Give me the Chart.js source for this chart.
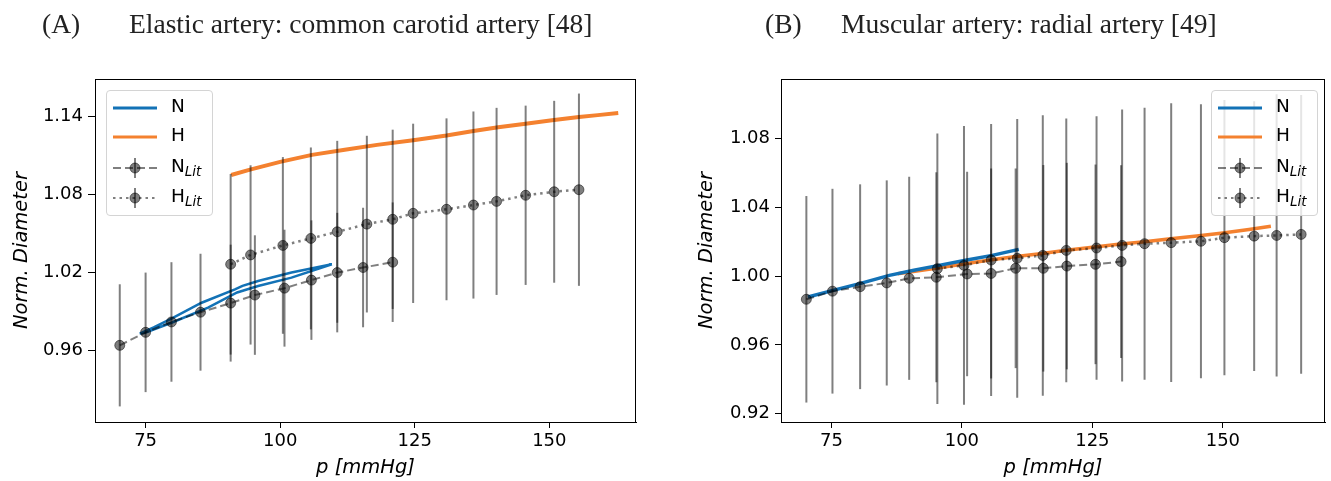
<!DOCTYPE html>
<html><head><meta charset="utf-8">
<script src="https://cdn.jsdelivr.net/npm/chart.js@4.4.1/dist/chart.umd.min.js"></script>
<style>
html,body{margin:0;padding:0;background:#fff;}
#wrap{position:relative;width:1331px;height:481px;overflow:hidden;background:#fff;}
canvas{position:absolute;top:0;}
.ttl{position:absolute;font-family:"Liberation Serif","DejaVu Serif",serif;font-size:27.5px;line-height:30px;color:#222;white-space:nowrap;}
.leg{position:absolute;width:107px;height:126px;box-sizing:border-box;background:rgba(255,255,255,0.8);border:1px solid #d4d4d4;border-radius:4px;font-family:"DejaVu Sans",sans-serif;font-size:18.5px;color:#000;}
.row{position:absolute;left:0;width:107px;height:26px;}
.row svg{position:absolute;left:5px;top:1px;}
.row span{position:absolute;left:64px;top:0px;line-height:22px;}
.row sub{font-style:italic;font-size:13.5px;vertical-align:-4px;line-height:0;}
</style></head>
<body><div id="wrap">
<canvas id="cA" width="665" height="481" style="left:0px"></canvas>
<canvas id="cB" width="666" height="481" style="left:665px"></canvas>
<div class="ttl" style="left:42px;top:9px">(A)</div>
<div class="ttl" style="left:129px;top:9px">Elastic artery: common carotid artery [48]</div>
<div class="ttl" style="left:765px;top:9px">(B)</div>
<div class="ttl" style="left:841px;top:9px">Muscular artery: radial artery [49]</div>
<div class="leg" id="legA" style="left:106px;top:90px"></div>
<div class="leg" id="legB" style="left:1211px;top:90px"></div>
</div>
<script>
// ---------- Panel A: common carotid artery ----------
const A_N_p = [73.9, 76.5, 79.8, 85.4, 91.6, 93.0, 95.9, 102.1, 109.6, 102.1, 95.9, 92.0, 86.6, 79.8, 74.9, 73.9];
const A_N_d = [0.9731, 0.9778, 0.9845, 0.9968, 1.0071, 1.0098, 1.0135, 1.0200, 1.0264, 1.0161, 1.0097, 1.0047, 0.9930, 0.9814, 0.9737, 0.9731];
const A_H_p = [90.9, 94.4, 100.0, 105.9, 112.0, 118.0, 124.7, 130.9, 135.9, 140.5, 145.6, 150.5, 155.5, 159.0, 162.8];
const A_H_d = [1.0951, 1.0993, 1.1052, 1.1106, 1.1145, 1.1183, 1.1218, 1.1255, 1.1290, 1.1318, 1.1345, 1.1372, 1.1397, 1.1412, 1.1428];
const A_NLit_p = [70.2, 75.0, 79.8, 85.2, 90.8, 95.3, 100.8, 105.8, 110.6, 115.4, 120.9];
const A_NLit_d = [0.964, 0.974, 0.982, 0.9895, 0.9965, 1.0027, 1.008, 1.0142, 1.0200, 1.0239, 1.0280];
const A_NLit_e = [0.047, 0.046, 0.046, 0.045, 0.045, 0.046, 0.045, 0.046, 0.046, 0.046, 0.046];
const A_HLit_p = [90.8, 94.5, 100.5, 105.7, 110.6, 116.1, 120.9, 124.7, 130.9, 135.9, 140.2, 145.6, 150.9, 155.5];
const A_HLit_d = [1.0264, 1.0336, 1.0409, 1.0463, 1.0514, 1.0573, 1.0610, 1.0656, 1.0687, 1.0720, 1.0748, 1.0795, 1.0822, 1.0838];
const A_HLit_e = [0.0695, 0.069, 0.068, 0.070, 0.070, 0.068, 0.069, 0.069, 0.070, 0.072, 0.072, 0.069, 0.070, 0.074];
const A_xTicks = [75, 100, 125, 150];
const A_yTicks = [0.96, 1.02, 1.08, 1.14];

// ---------- Panel B: radial artery ----------
const B_N_p = [70.5, 75.3, 80.4, 86.1, 90.8, 95.6, 100.7, 105.8, 110.9];
const B_N_d = [0.9878, 0.9917, 0.9956, 1.0004, 1.0034, 1.0062, 1.0092, 1.0120, 1.0155];
const B_H_p = [87.7, 95.0, 100.0, 105.0, 110.0, 115.0, 120.0, 125.0, 130.0, 135.0, 140.0, 145.0, 150.0, 155.0, 159.2];
const B_H_d = [1.0014, 1.0045, 1.0068, 1.0092, 1.0112, 1.0130, 1.0150, 1.0168, 1.0185, 1.0200, 1.0217, 1.0233, 1.0250, 1.0270, 1.0289];
const B_NLit_p = [70.2, 75.2, 80.5, 85.6, 89.9, 95.1, 101.0, 105.6, 110.3, 115.6, 120.1, 125.6, 130.5];
const B_NLit_d = [0.9865, 0.9912, 0.9938, 0.9960, 0.9987, 0.9993, 1.0012, 1.0015, 1.0045, 1.0045, 1.0058, 1.0068, 1.0084];
const B_NLit_e = [0.060, 0.0595, 0.0595, 0.0596, 0.059, 0.061, 0.0594, 0.061, 0.058, 0.060, 0.060, 0.058, 0.056];
const B_HLit_p = [95.3, 100.4, 105.6, 110.6, 115.5, 120.0, 125.8, 130.7, 135.0, 140.1, 145.8, 150.3, 156.0, 160.3, 165.0];
const B_HLit_d = [1.0043, 1.0062, 1.0093, 1.0103, 1.0120, 1.0149, 1.0163, 1.0178, 1.0188, 1.0194, 1.0202, 1.0223, 1.0232, 1.0236, 1.0242];
const B_HLit_e = [0.0786, 0.081, 0.079, 0.081, 0.0815, 0.0766, 0.0765, 0.079, 0.079, 0.081, 0.0796, 0.080, 0.0784, 0.082, 0.081];
const B_xTicks = [75, 100, 125, 150];
const B_yTicks = [0.92, 0.96, 1.00, 1.04, 1.08];

const seriesNames = ['N', 'H', 'N', 'H'];

const BLUE = '#1372b6';
const ORANGE = '#f4812f';
const GRAY = 'rgba(0,0,0,0.5)';
const FONT = '"DejaVu Sans", sans-serif';

function pts(p, d) { return p.map((x, i) => ({x: x, y: d[i]})); }
function errSets(p, d, e) {
  return p.map((x, i) => ({
    label: '_err', data: [{x: x, y: d[i] - e[i]}, {x: x, y: d[i] + e[i]}],
    showLine: true, borderColor: GRAY, borderWidth: 2, pointRadius: 0, order: 2
  }));
}
const frame = {
  id: 'frame',
  afterDraw(chart) {
    const {ctx, chartArea: a} = chart;
    ctx.save(); ctx.strokeStyle = '#000'; ctx.lineWidth = 1;
    ctx.strokeRect(Math.round(a.left) + 0.5, Math.round(a.top) + 0.5, Math.round(a.right - a.left) - 1, Math.round(a.bottom - a.top));
    ctx.restore();
  }
};

function build(id, m, opt) {
  const datasets = [
    {label: seriesNames[0], data: pts(m.Np, m.Nd), showLine: true, borderColor: BLUE, borderWidth: opt.nW, pointRadius: 0, order: 3},
    {label: seriesNames[1], data: pts(m.Hp, m.Hd), showLine: true, borderColor: ORANGE, borderWidth: opt.hW, pointRadius: 0, order: 3},
    ...errSets(m.NLp, m.NLd, m.NLe),
    ...errSets(m.HLp, m.HLd, m.HLe),
    {label: seriesNames[2] + 'Lit', data: pts(m.NLp, m.NLd), showLine: true, borderColor: GRAY, borderWidth: 2, borderDash: [8, 4],
      pointRadius: 5, pointBackgroundColor: GRAY, pointBorderColor: GRAY, pointBorderWidth: 1, order: 1},
    {label: seriesNames[3] + 'Lit', data: pts(m.HLp, m.HLd), showLine: true, borderColor: GRAY, borderWidth: 2.5, borderDash: [2.5, 4],
      pointRadius: 5, pointBackgroundColor: GRAY, pointBorderColor: GRAY, pointBorderWidth: 1, order: 1}
  ];
  return new Chart(document.getElementById(id), {
    type: 'scatter',
    data: {datasets},
    plugins: [frame],
    options: {
      responsive: false, animation: false, devicePixelRatio: 1,
      layout: {padding: {left: 0, top: 79, right: opt.padR, bottom: 0}},
      plugins: {legend: {display: false}, tooltip: {enabled: false}},
      scales: {
        x: {
          type: 'linear', min: opt.xmin, max: opt.xmax,
          afterBuildTicks: s => { s.ticks = m.xT.map(v => ({value: v})); },
          afterFit: s => { s.height = 59; },
          ticks: {color: '#000', font: {family: FONT, size: 18}, padding: 3, autoSkip: false, maxRotation: 0, callback: v => String(v)},
          grid: {drawOnChartArea: false, drawTicks: true, tickLength: 6, color: '#000', tickWidth: 1},
          border: {display: true, color: '#000', width: 1},
          title: {display: true, text: 'p [mmHg]', color: '#000', font: {family: FONT, size: 19.5, style: 'italic'}, padding: {top: 0, bottom: 1}}
        },
        y: {
          type: 'linear', min: opt.ymin, max: opt.ymax,
          afterBuildTicks: s => { s.ticks = m.yT.map(v => ({value: v})); },
          afterFit: s => { s.width = opt.yW; },
          ticks: {color: '#000', font: {family: FONT, size: 18}, padding: 5, autoSkip: false, callback: v => Number(v).toFixed(2)},
          grid: {drawOnChartArea: false, drawTicks: true, tickLength: opt.yTick, color: '#000', tickWidth: 1},
          border: {display: true, color: '#000', width: 1},
          title: {display: true, text: 'Norm. Diameter', color: '#000', font: {family: FONT, size: 19.5, style: 'italic'}, padding: {top: opt.yTitlePad, bottom: 0}}
        }
      }
    }
  });
}

build('cA', {Np: A_N_p, Nd: A_N_d, Hp: A_H_p, Hd: A_H_d, NLp: A_NLit_p, NLd: A_NLit_d, NLe: A_NLit_e,
  HLp: A_HLit_p, HLd: A_HLit_d, HLe: A_HLit_e, xT: A_xTicks, yT: A_yTicks},
  {xmin: 65.6, xmax: 166.1, ymin: 0.905, ymax: 1.169, padR: 29, yW: 95, yTick: 7, yTitlePad: 10, nW: 2.5, hW: 4});
build('cB', {Np: B_N_p, Nd: B_N_d, Hp: B_H_p, Hd: B_H_d, NLp: B_NLit_p, NLd: B_NLit_d, NLe: B_NLit_e,
  HLp: B_HLit_p, HLd: B_HLit_d, HLe: B_HLit_e, xT: B_xTicks, yT: B_yTicks},
  {xmin: 65.34, xmax: 169.57, ymin: 0.9152, ymax: 1.1145, padR: 3, yW: 116, yTick: 6, yTitlePad: 30, nW: 3.5, hW: 3.5});

// ---------- legends (HTML) ----------
function swatch(kind) {
  const s = '<svg width="46" height="24" viewBox="0 0 46 24">';
  if (kind === 'N') return s + '<line x1="1" y1="12" x2="45" y2="12" stroke="' + BLUE + '" stroke-width="2.8"/></svg>';
  if (kind === 'H') return s + '<line x1="1" y1="12" x2="45" y2="12" stroke="' + ORANGE + '" stroke-width="2.8"/></svg>';
  const dash = kind === 'NL' ? '8 4' : '2.5 4';
  return s + '<line x1="1" y1="12" x2="45" y2="12" stroke="' + GRAY + '" stroke-width="2" stroke-dasharray="' + dash + '"/>' +
    '<line x1="23" y1="2" x2="23" y2="22" stroke="' + GRAY + '" stroke-width="2"/>' +
    '<circle cx="23" cy="12" r="5" fill="' + GRAY + '" stroke="' + GRAY + '" stroke-width="1"/></svg>';
}
function legend(id) {
  const el = document.getElementById(id);
  const rows = [['N', seriesNames[0]], ['H', seriesNames[1]], ['NL', seriesNames[2] + '<sub>Lit</sub>'], ['HL', seriesNames[3] + '<sub>Lit</sub>']];
  const tops = [4, 33, 64, 94];
  el.innerHTML = rows.map((r, i) => '<div class="row" style="top:' + tops[i] + 'px">' + swatch(r[0]) + '<span>' + r[1] + '</span></div>').join('');
}
legend('legA'); legend('legB');
</script>
</body></html>
